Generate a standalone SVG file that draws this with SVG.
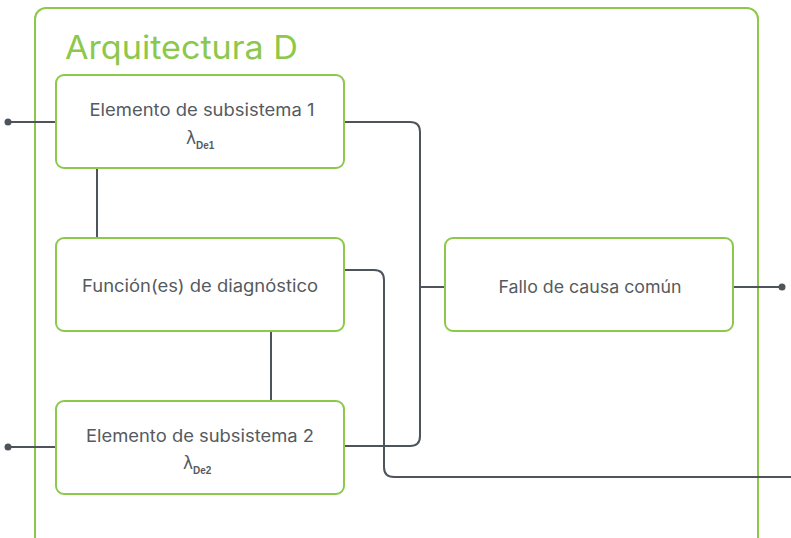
<svg xmlns="http://www.w3.org/2000/svg" width="791" height="538" viewBox="0 0 791 538">
<style>
.box{fill:#fff;stroke:#8cc84b;stroke-width:2}
.ln{fill:none;stroke:#4d545c;stroke-width:2}
.t{font-family:Inter,"Noto Sans",sans-serif;font-size:17px;fill:#555a60;text-anchor:middle}
.sub{font-family:"Liberation Sans",Arial,sans-serif;font-size:10px;font-weight:bold;fill:#555a60}
.lam{font-family:"DejaVu Sans",sans-serif;font-size:17px;fill:#555a60}
</style>
<rect x="0" y="0" width="791" height="538" fill="#fff"/>
<rect x="35" y="8" width="723" height="545" rx="11" fill="none" stroke="#8cc84b" stroke-width="2"/>
<text x="65" y="59" font-family="Inter,'Noto Sans',sans-serif" font-size="32" fill="#8cc84b" textLength="233" lengthAdjust="spacingAndGlyphs">Arquitectura D</text>
<g id="connectors">
<line class="ln" x1="8" y1="122" x2="56" y2="122"/>
<circle cx="8" cy="122" r="3.5" fill="#4d545c"/>
<line class="ln" x1="8" y1="447" x2="56" y2="447"/>
<circle cx="8" cy="447" r="3.5" fill="#4d545c"/>
<path class="ln" d="M344 122 H410 Q420 122 420 132 V436 Q420 446 410 446 H344"/>
<line class="ln" x1="420" y1="287" x2="445" y2="287"/>
<path class="ln" d="M344 270 H374 Q384 270 384 280 V467 Q384 477 394 477 H791"/>
<line class="ln" x1="733" y1="287" x2="782" y2="287"/>
<circle cx="782" cy="287" r="3.5" fill="#4d545c"/>
<line class="ln" x1="97" y1="168" x2="97" y2="238"/>
<line class="ln" x1="271" y1="331" x2="271" y2="401"/>
</g>
<g id="elem1">
<rect class="box" x="56" y="75" width="288" height="93" rx="8"/>
<text class="t" x="202" y="116" textLength="225" lengthAdjust="spacingAndGlyphs">Elemento de subsistema 1</text>
<text x="186" y="144" class="lam">λ<tspan class="sub" dy="5">De1</tspan></text>
</g>
<g id="diag">
<rect class="box" x="56" y="238" width="288" height="93" rx="8"/>
<text class="t" x="200" y="292" textLength="236" lengthAdjust="spacingAndGlyphs">Función(es) de diagnóstico</text>
</g>
<g id="elem2">
<rect class="box" x="56" y="401" width="288" height="93" rx="8"/>
<text class="t" x="200" y="442" textLength="228" lengthAdjust="spacingAndGlyphs">Elemento de subsistema 2</text>
<text x="183" y="469" class="lam">λ<tspan class="sub" dy="5">De2</tspan></text>
</g>
<g id="ccf">
<rect class="box" x="445" y="238" width="288" height="93" rx="8"/>
<text class="t" x="590" y="293" textLength="183" lengthAdjust="spacingAndGlyphs">Fallo de causa común</text>
</g>
</svg>
